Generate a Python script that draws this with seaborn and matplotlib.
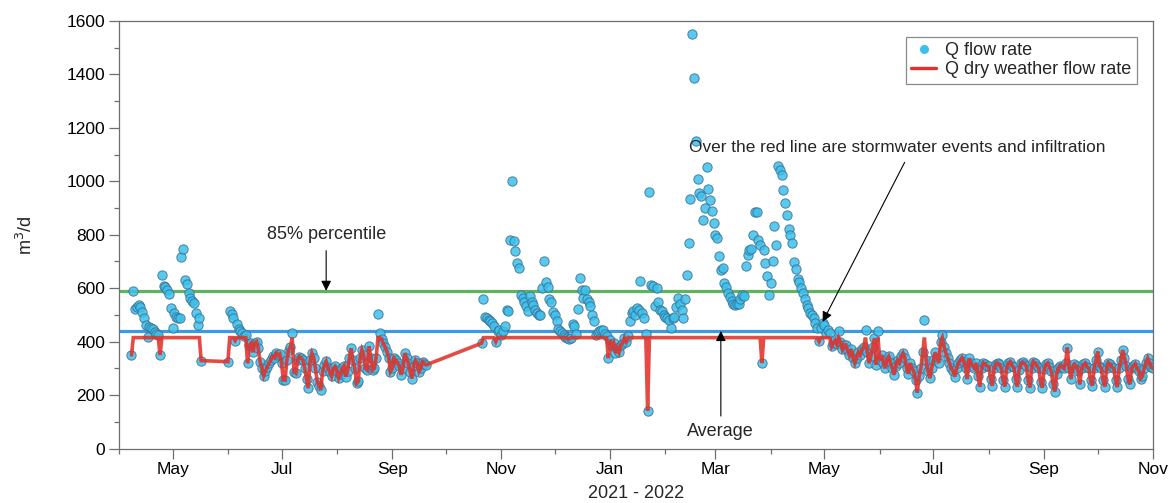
import matplotlib
matplotlib.use("Agg")

import matplotlib.dates as mdates
import matplotlib.pyplot as plt
import numpy as np
import pandas as pd
import seaborn as sns
from matplotlib.lines import Line2D
from matplotlib.ticker import MultipleLocator


# daily flow rate, m3/d, in four contiguous stretches (gaps in between)
SEG1_START = "2021-04-08"
SEG1_Q = [350, 590, 522, 530, 537, 529, 512, 487, 462, 416, 455, 452, 448, 437,
          430, 425, 350, 650, 609, 606, 594, 578, 527, 450, 506, 494, 490, 487,
          716, 747, 629, 615, 581, 565, 552, 544, 506, 462, 487, 329]

SEG2_START = "2021-06-01"
SEG2_Q = [325, 516, 504, 487, 404, 466, 447, 440, 434, 420, 425, 319, 387, 394,
          360, 395, 400, 375, 325, 300, 272, 290, 305, 320, 330, 345, 340, 357,
          350, 354, 320, 257, 256, 330, 369, 380, 432, 287, 282, 330, 344, 337,
          332, 300, 260, 226, 330, 357, 340, 300, 250, 235, 219, 290, 312, 326,
          300, 288, 270, 300, 307, 290, 263, 280, 300, 310, 269, 290, 340, 375,
          330, 300, 244, 251, 340, 369, 350, 300, 294, 382, 340, 294, 300, 340,
          504, 432, 410, 394, 380, 363, 340, 288, 300, 338, 330, 320, 307, 276,
          300, 357, 340, 319, 288, 262, 310, 330, 319, 288, 300, 325, 318, 313]

SEG3_START = "2021-10-21"
SEG3_Q = [394, 560, 494, 488, 482, 476, 470, 457, 400, 438, 445, 426, 440, 457,
          519, 513, 779, 1003, 775, 738, 694, 675, 575, 563, 550, 532, 513, 569,
          548, 538, 520, 507, 501, 498, 600, 700, 622, 604, 560, 547, 510, 500,
          476, 448, 438, 432, 426, 418, 413, 410, 415, 467, 457, 430, 522, 638,
          594, 563, 592, 559, 550, 532, 500, 476, 426, 432, 440, 444, 444, 430,
          420, 338, 407, 382, 394, 357, 376, 360, 388, 395, 413, 400, 420, 476,
          507, 513, 500, 526, 519, 626, 509, 488, 430, 142, 959, 613, 607, 532,
          600, 550, 519, 513, 500, 494, 488, 482, 451, 488, 494, 530, 563, 540,
          519, 488, 560, 651, 769, 934, 1550, 1385, 1150, 1009, 957, 944, 857, 900,
          1054, 972, 929, 890, 844, 800, 788, 722, 667, 676, 619, 604, 582, 566,
          551, 542, 538, 540, 542, 559, 576, 569, 682, 725, 744, 747, 800, 884,
          884, 782, 760, 320, 742, 694, 644, 576, 619, 700, 834, 763, 1059, 1044,
          1025, 967, 920, 875, 822, 800, 769, 697, 672, 634, 622, 600, 582, 560,
          538, 526, 507, 498, 488, 469, 451, 401, 451, 469, 463, 432, 444, 434]

SEG4_START = "2022-05-05"
SEG4_Q = [382, 395, 405, 390, 438, 400, 372, 388, 388, 365, 350, 372, 340, 319,
          340, 360, 350, 372, 380, 442, 360, 319, 345, 380, 413, 313, 440, 330,
          350, 320, 300, 335, 345, 320, 300, 276, 310, 330, 320, 345, 357, 340,
          300, 280, 320, 300, 290, 257, 209, 270, 300, 360, 482, 330, 290, 263,
          300, 330, 360, 340, 320, 400, 425, 380, 357, 340, 320, 300, 290, 269,
          300, 320, 330, 340, 325, 300, 260, 338, 320, 310, 300, 320, 270, 232,
          300, 320, 315, 310, 307, 260, 235, 300, 318, 320, 315, 300, 255, 232,
          300, 320, 325, 310, 305, 260, 232, 295, 320, 322, 318, 310, 255, 228,
          300, 325, 320, 310, 300, 250, 228, 296, 315, 320, 305, 290, 240, 213,
          280, 300, 310, 305, 300, 320, 378, 300, 260, 300, 315, 310, 290, 240,
          300, 315, 320, 305, 300, 255, 235, 300, 330, 363, 310, 300, 255, 232,
          300, 320, 315, 305, 300, 255, 230, 300, 330, 369, 340, 310, 262, 240,
          300, 310, 318, 300, 290, 262, 270, 300, 320, 338, 320, 304, 300]

SEGMENTS = [(SEG1_START, SEG1_Q), (SEG2_START, SEG2_Q),
            (SEG3_START, SEG3_Q), (SEG4_START, SEG4_Q)]

P85 = 590       # 85% percentile
AVERAGE = 440
DRY_CAP = 415   # dry weather flow ceiling

CYAN = "#3cc0ea"
EDGE = "#3a6f96"
RED = "#e2312a"
GREEN = "#5cb55c"
BLUE = "#3b9ae8"
SPINE = "#6e6e6e"


def build_frame() -> pd.DataFrame:
    parts = []
    for start, values in SEGMENTS:
        dates = pd.date_range(start, periods=len(values), freq="D")
        parts.append(pd.DataFrame({"date": dates, "q": values}))
    df = pd.concat(parts, ignore_index=True)
    df["q_dry"] = np.minimum(df["q"], DRY_CAP)
    return df


def main() -> None:
    df = build_frame()

    sns.set_theme(style="ticks")
    plt.rcParams["font.family"] = ["Liberation Sans", "DejaVu Sans"]

    fig = plt.figure(figsize=(11.7, 5.03), dpi=100)
    ax = fig.add_axes([0.1017, 0.1083, 0.8838, 0.85])

    ax.axhline(P85, color=GREEN, lw=2.3, zorder=1)
    ax.axhline(AVERAGE, color=BLUE, lw=2.3, zorder=1)

    sns.scatterplot(data=df, x="date", y="q", color=CYAN, edgecolor=EDGE,
                    linewidth=0.7, s=45, alpha=0.85, legend=False, ax=ax, zorder=2)
    sns.lineplot(data=df, x="date", y="q_dry", color=RED, lw=2.6, alpha=0.88,
                 estimator=None, solid_joinstyle="miter", ax=ax, zorder=3)

    ax.set_xlim(pd.Timestamp("2021-04-01"), pd.Timestamp("2022-11-01"))
    ax.set_ylim(0, 1600)
    ax.xaxis.set_major_locator(mdates.MonthLocator(bymonth=[1, 3, 5, 7, 9, 11]))
    ax.xaxis.set_minor_locator(mdates.MonthLocator())
    ax.xaxis.set_major_formatter(mdates.DateFormatter("%b"))
    ax.yaxis.set_major_locator(MultipleLocator(200))
    ax.yaxis.set_minor_locator(MultipleLocator(100))
    ax.tick_params(which="major", direction="out", length=7, width=0.9,
                   color=SPINE, labelsize=12.5, pad=3, labelcolor="black")
    ax.tick_params(which="minor", direction="out", length=3.5, width=0.9, color=SPINE)
    for spine in ax.spines.values():
        spine.set_visible(True)
        spine.set_color(SPINE)
        spine.set_linewidth(0.9)

    ax.set_xlabel("2021 - 2022", fontsize=13)
    ax.set_ylabel("m$^3$/d", fontsize=13)
    ax.xaxis.set_label_coords(0.5, -0.085)
    ax.yaxis.set_label_coords(-0.080, 0.5)

    arrow = dict(arrowstyle="-|>", color="black", lw=0.8, mutation_scale=15,
                 shrinkA=3, shrinkB=0)
    ax.annotate("85% percentile", xy=(pd.Timestamp("2021-07-26"), P85),
                xytext=(pd.Timestamp("2021-07-26"), 800), ha="center", va="center",
                fontsize=13, arrowprops=arrow)
    ax.annotate("Average", xy=(pd.Timestamp("2022-03-04"), AVERAGE),
                xytext=(pd.Timestamp("2022-03-04"), 62), ha="center", va="center",
                fontsize=13, arrowprops=arrow)
    ax.text(pd.Timestamp("2022-02-14"), 1126,
            "Over the red line are stormwater events and infiltration",
            ha="left", va="center", fontsize=12.4)
    ax.annotate("", xy=(pd.Timestamp("2022-04-30"), 474),
                xytext=(pd.Timestamp("2022-06-16"), 1085), arrowprops=arrow)

    handles = [
        Line2D([], [], marker="o", ls="", markerfacecolor=CYAN, markeredgecolor="none",
               markersize=6.5),
        Line2D([], [], color=RED, lw=2.4),
    ]
    leg = ax.legend(handles, ["Q flow rate", "Q dry weather flow rate"],
                    loc="upper right", bbox_to_anchor=(0.9845, 0.9626), borderaxespad=0,
                    frameon=True, fancybox=False, edgecolor=SPINE, fontsize=13,
                    handlelength=1.4, handletextpad=0.5, borderpad=0.3,
                    labelspacing=0.1)
    leg.get_frame().set_linewidth(0.9)

    fig.savefig("out.png", dpi=100)
    plt.close(fig)


if __name__ == "__main__":
    main()
